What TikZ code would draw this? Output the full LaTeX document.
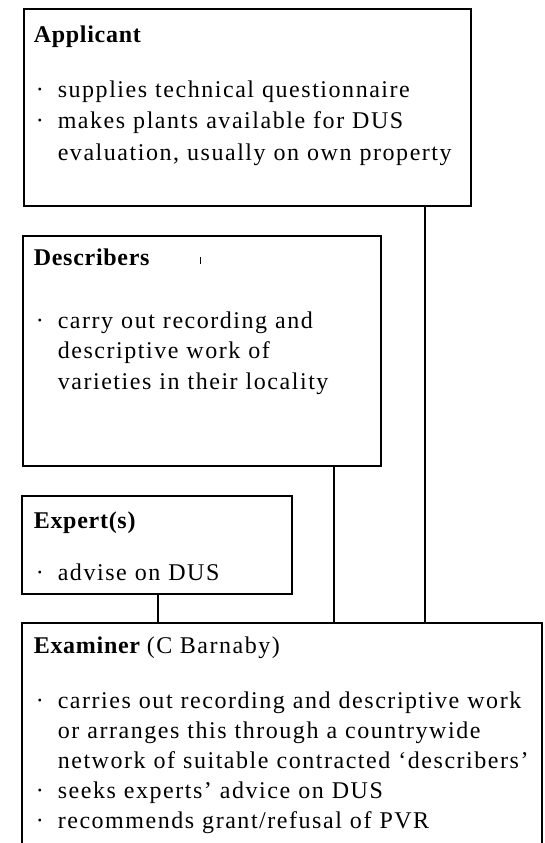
\documentclass[tikz,border=0pt]{standalone}
\usepackage{fontspec}
\setmainfont{Liberation Serif}[LetterSpace=6.4, BoldFeatures={LetterSpace=3}]
\newcommand{\boxfont}{\fontsize{24}{30.5}\selectfont}
\newcommand{\bitem}{\hangindent=24pt\hangafter=1\makebox[24pt][l]{\hspace{2pt}·}}
\newcommand{\nl}{\hfil\break}
\tikzset{every picture/.style={line width=1.6pt}}
\tikzset{
	box/.style={draw, rectangle, anchor=north west, outer sep=0pt, inner sep=0pt},
	head/.style={anchor=base west, inner sep=0pt, font=\boxfont\bfseries},
	items/.style={anchor=base west, inner sep=0pt, text width=520pt, align=left, font=\boxfont}}

\begin{document}
\begin{tikzpicture}[x=1pt,y=1pt,yscale=-1,xscale=1]
	\useasboundingbox (0,0) rectangle (544,843);
	\clip (0,0) rectangle (544,843);

	%Shape: Boxes
	\node[box, minimum width=447pt, minimum height=197pt] (applicant) at (24,9) {};
	\node[box, minimum width=358pt, minimum height=230pt] (describers) at (23,236) {};
	\node[box, minimum width=270pt, minimum height=98pt] (expert) at (22,496) {};
	\node[box, minimum width=520pt, minimum height=260pt] (examiner) at (22,623) {};

	%Straight Lines
	\coordinate (apline) at (425,0);
	\coordinate (deline) at (334,0);
	\coordinate (exline) at (158,0);
	\draw (applicant.south -| apline) -- (examiner.north -| apline);
	\draw (describers.south -| deline) -- (examiner.north -| deline);
	\draw (expert.south -| exline) -- (examiner.north -| exline);
	\draw [line width=0.8pt] (200,257) -- (200,264);

	% Text Node
	\node[head] (aphead) at (33,43) {Applicant};
	\node[items, font=\fontsize{24}{31.5}\selectfont] (apitems) at (33,97) {\bitem supplies technical questionnaire\par
		\bitem makes plants available for DUS\nl evaluation, usually on own property\par};
	% Text Node
	\node[head] (dehead) at (33,265) {Describers};
	\node[items] (deitems) at (33,328) {\bitem carry out recording and\nl descriptive work of\nl varieties in their locality\par};
	% Text Node
	\node[head] (exhead) at (33,528) {Expert(s)};
	\node[items] (exitems) at (33,580) {\bitem advise on DUS\par};
	% Text Node
	\node[head] (emhead) at (33,653) {Examiner \mdseries(C Barnaby)};
	\node[items, font=\fontsize{24}{30}\selectfont] (emitems) at (33,708) {\bitem carries out recording and descriptive work\nl or arranges this through a countrywide\nl network of suitable contracted ‘describers’\par
		\bitem seeks experts’ advice on DUS\par
		\bitem recommends grant/refusal of PVR\par};
\end{tikzpicture}
\end{document}
